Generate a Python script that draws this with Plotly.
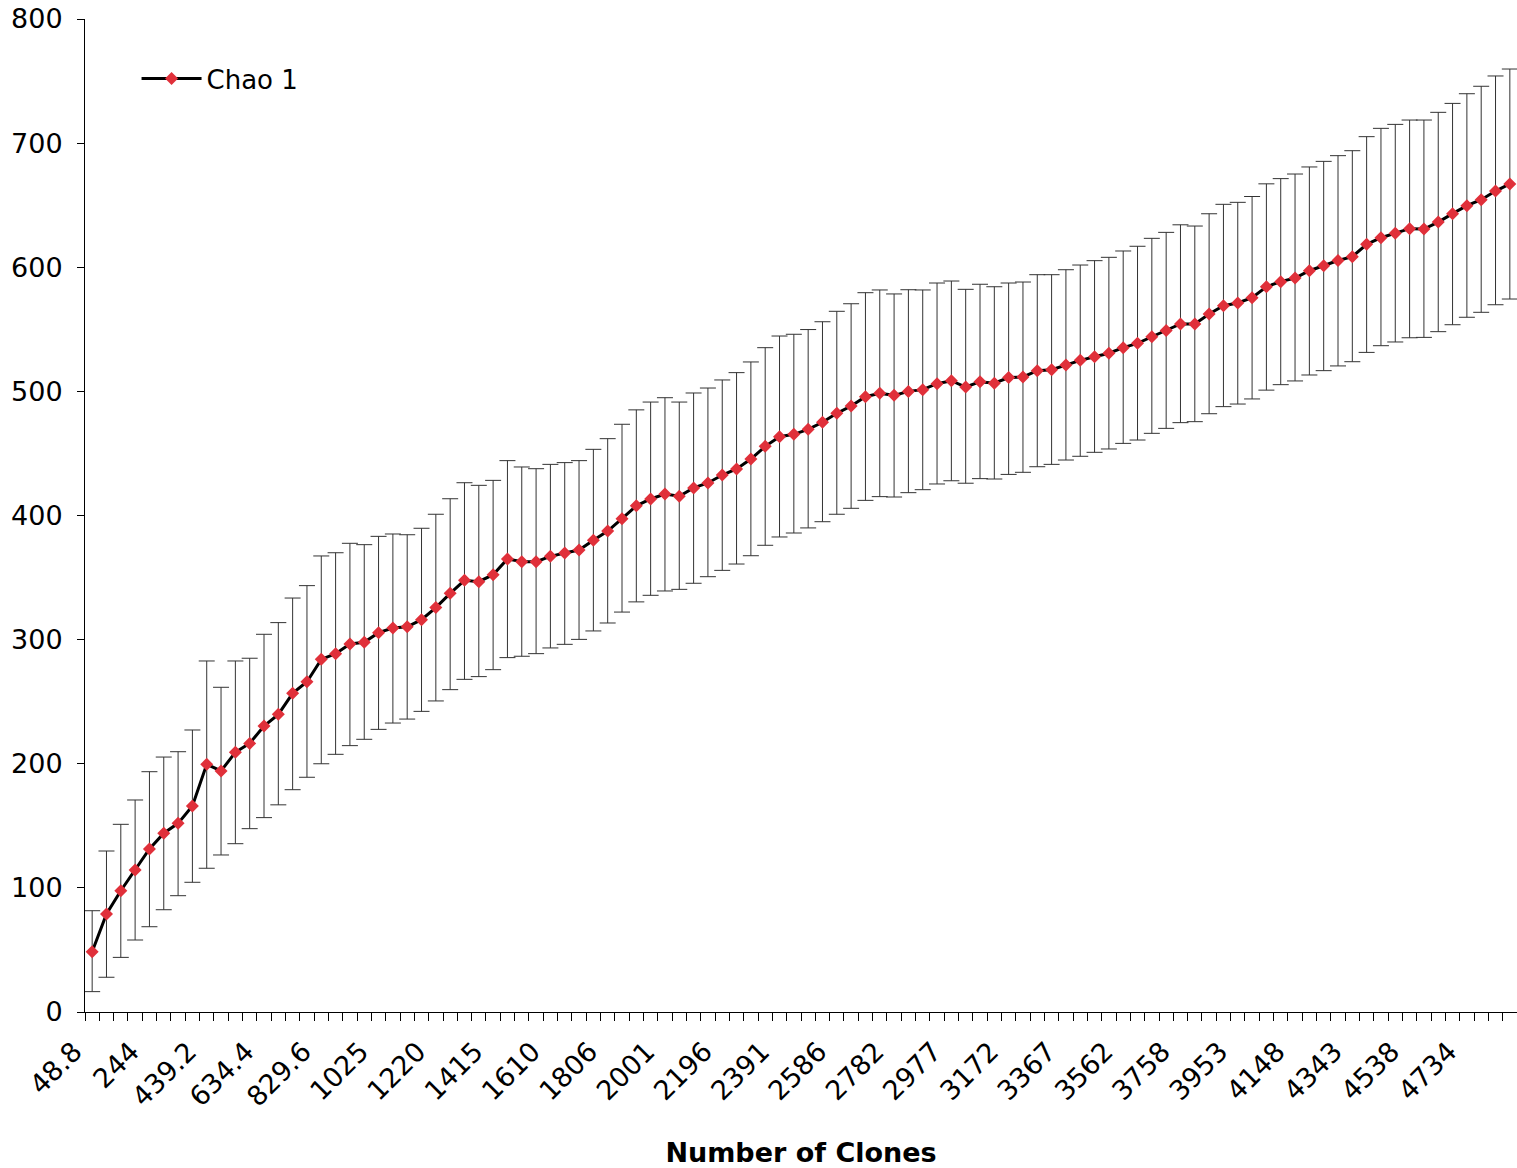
import plotly.graph_objects as go

# Number of clones sampled (100 equally spaced categories, step 48.8)
clones = [round(48.8 * k, 1) for k in range(1, 101)]

tick_labels = ["48.8", "244", "439.2", "634.4", "829.6", "1025", "1220", "1415", "1610",
               "1806", "2001", "2196", "2391", "2586", "2782", "2977", "3172", "3367",
               "3562", "3758", "3953", "4148", "4343", "4538", "4734"]

chao1 = [48.6, 79, 97.7, 114.4, 131.3, 144, 152, 166, 199.5, 194.2,
         209.2, 216.4, 230.4, 239.8, 256.7, 266.1, 284.1, 288.7, 296.5, 297.8,
         305.6, 309.4, 310.4, 316.1, 325.8, 337.3, 347.8, 346.7, 352.3, 365,
         362.8, 362.8, 367.1, 369.8, 372.2, 380, 387.5, 397.4, 407.8, 413.3,
         417.3, 415.5, 422.2, 426.2, 432.6, 437.5, 445.5, 455.7, 463.5, 465.4,
         469.4, 475.1, 482.3, 488.2, 495.7, 498.4, 496.8, 500, 501.4, 506.2,
         508.6, 503.5, 507.8, 506.6, 511.1, 511.6, 516.7, 517.5, 521.3, 525,
         527.9, 530.7, 535.2, 538.7, 544, 549, 554.3, 554.3, 562.3, 569,
         571.2, 575.5, 584.3, 588.4, 591.3, 597.2, 601.3, 605.4, 608.5, 618.5,
         623.8, 627.3, 631.1, 630.8, 636.4, 643.2, 649.6, 654.4, 661.4, 667.1]

upper_ci = [81.6, 129.7, 151.2, 170.8, 193.6, 205.4, 209.7, 227.2, 282.8, 261.6,
            282.8, 285, 304.3, 313.7, 333.5, 343.5, 367.4, 370, 377.6, 376.5,
            383.2, 385.1, 384.5, 389.7, 401, 413.5, 426.4, 424.3, 428.3, 444.2,
            439.1, 437.7, 441.2, 442.6, 444.2, 453.3, 461.9, 473.5, 485.1, 491.4,
            494.9, 491.4, 498.7, 502.7, 509.2, 515.1, 523.7, 535.2, 544.6, 546,
            549.8, 556.1, 564.5, 570.6, 579.5, 581.7, 578.5, 581.9, 581.7, 587.3,
            588.9, 582.2, 586.3, 584.3, 587.3, 588.1, 594, 594, 598, 601.8,
            605.3, 608, 613.1, 616.9, 623.3, 628.1, 634.2, 633.2, 643.1, 650.7,
            652.3, 657, 667.2, 671.4, 675.1, 680.8, 685.3, 689.9, 693.9, 705.2,
            711.9, 715.1, 718.6, 718.6, 724.8, 732, 739.8, 745.8, 754.1, 759.7]

lower_ci = [16.4, 28, 44, 58, 68.7, 82.4, 93.7, 104.5, 115.8, 126.5,
            135.6, 147.7, 156.6, 166.9, 179.1, 189.1, 200, 207.6, 214.6, 219.7,
            227.7, 232.8, 236, 242.2, 250.6, 259.7, 268, 270.2, 275.8, 285.5,
            286.6, 288.7, 293.3, 296.2, 300.2, 307, 313.4, 322.2, 330.4, 335.7,
            339.2, 340.5, 345.4, 350.7, 355.8, 360.9, 367.6, 376, 382.7, 385.9,
            390, 395, 401, 405.8, 412.2, 415.2, 414.9, 418.4, 420.8, 425.4,
            428, 426, 429.7, 429.4, 433.1, 434.8, 439.3, 441.2, 444.7, 447.7,
            450.9, 453.6, 458.1, 460.8, 466.2, 470.2, 474.8, 475.6, 482, 487.7,
            489.8, 493.9, 501, 505.4, 508.4, 513.2, 516.7, 520.5, 523.9, 531.4,
            536.8, 539.8, 543.2, 543.5, 548.1, 553.7, 559.7, 563.7, 569.8, 574.4]

err_plus = [u - m for u, m in zip(upper_ci, chao1)]
err_minus = [m - l for m, l in zip(chao1, lower_ci)]

step = clones[1] - clones[0]
label_positions = clones[::4]

FONT = "DejaVu Sans, Verdana, sans-serif"

fig = go.Figure()
fig.add_trace(go.Scatter(
    x=clones, y=chao1, mode="lines+markers", name="Chao 1",
    line=dict(color="black", width=3),
    marker=dict(symbol="diamond", color="#E0303A", size=10),
    error_y=dict(type="data", symmetric=False, array=err_plus, arrayminus=err_minus,
                 color="#333333", thickness=1, width=8),
))

fig.update_layout(
    width=1517, height=1168,
    margin=dict(l=85, r=0, t=19, b=156),
    paper_bgcolor="white", plot_bgcolor="white",
    font=dict(family=FONT, size=26, color="black"),
    showlegend=True,
    legend=dict(x=0.036, y=0.94, xanchor="left", yanchor="middle",
                bgcolor="rgba(0,0,0,0)", font=dict(size=26), itemwidth=60),
    xaxis=dict(
        range=[clones[0] - step / 2, clones[-1] + step / 2],
        automargin=False,
        tickmode="array", tickvals=label_positions, ticktext=tick_labels,
        tickangle=-45, ticks="", showgrid=False, zeroline=False,
        tickfont=dict(size=27), ticklabelstandoff=12, ticklabelshift=-18,
        showline=True, linecolor="black", linewidth=1,
        minor=dict(tick0=clones[0] - step / 2, dtick=step, ticks="outside",
                   ticklen=8, tickcolor="black", showgrid=False),
        title=dict(text="<b>Number of Clones</b>", font=dict(size=27), standoff=50),
    ),
    yaxis=dict(
        range=[0, 800], dtick=100, ticks="outside", ticklen=7, tickcolor="black",
        automargin=False, tickfont=dict(size=27), ticklabelstandoff=9,
        showgrid=False, zeroline=False, showline=True, linecolor="black", linewidth=1,
    ),
)

fig.write_html(
    "out.html",
    config={"displayModeBar": False},
    post_script="document.body.style.margin='0px';document.body.style.overflow='hidden';",
)
